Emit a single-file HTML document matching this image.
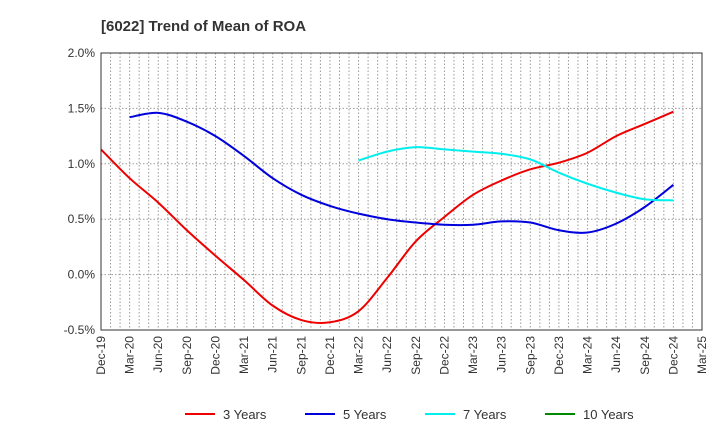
<!DOCTYPE html>
<html><head><meta charset="utf-8"><style>
body{margin:0;background:#fff;font-family:"Liberation Sans",sans-serif}
svg text{font-family:"Liberation Sans",sans-serif}
</style></head><body>
<svg id="c" width="720" height="440">
<text x="101" y="31" font-size="15" font-weight="bold" fill="#333">[6022]  Trend of Mean of ROA</text>
<g id="grid"></g><g id="series"></g><g id="axes"></g><g id="legend"></g>
</svg>
<script>
const xLabels=["Dec-19","Mar-20","Jun-20","Sep-20","Dec-20","Mar-21","Jun-21","Sep-21","Dec-21","Mar-22","Jun-22","Sep-22","Dec-22","Mar-23","Jun-23","Sep-23","Dec-23","Mar-24","Jun-24","Sep-24","Dec-24","Mar-25"];
const yTicks=[2.0,1.5,1.0,0.5,0.0,-0.5];
const yLabels=["2.0%","1.5%","1.0%","0.5%","0.0%","-0.5%"];
const s3=[1.13,0.87,0.65,0.40,0.17,-0.05,-0.28,-0.41,-0.43,-0.33,-0.03,0.30,0.52,0.72,0.85,0.95,1.01,1.10,1.25,1.36,1.47];
const s5=[null,1.42,1.46,1.38,1.25,1.07,0.87,0.72,0.62,0.55,0.50,0.47,0.45,0.45,0.48,0.47,0.40,0.38,0.46,0.61,0.81];
const s7=[null,null,null,null,null,null,null,null,null,1.03,1.11,1.15,1.13,1.11,1.09,1.04,0.92,0.82,0.74,0.68,0.67];
const s10=[];
const L=101,R=702,T=53,B=330,NS="http://www.w3.org/2000/svg";
const xs=i=>L+(R-L)*i/21, ys=v=>T+(2.0-v)/2.5*(B-T);
function mk(p,t,a){const e=document.createElementNS(NS,t);for(const k in a)e.setAttribute(k,a[k]);p.appendChild(e);return e;}
const g=document.getElementById('grid'),ax=document.getElementById('axes'),se=document.getElementById('series'),lg=document.getElementById('legend');
for(let m=1;m<63;m++){const x=L+(R-L)*m/63;const l=mk(g,'line',{x1:x,x2:x,y1:T,y2:B,stroke:'#999','stroke-dasharray':'1.5,2','stroke-width':1});
}
yTicks.forEach((v,i)=>{const y=ys(v);const l=mk(g,'line',{x1:L,x2:R,y1:y,y2:y,stroke:'#999','stroke-dasharray':'1.5,2'});

const t=mk(ax,'text',{x:L-6,y:y+4,'text-anchor':'end','font-size':12,fill:'#333'});t.textContent=yLabels[i];
});
const f=mk(ax,'rect',{x:L,y:T,width:R-L,height:B-T,fill:'none',stroke:'#333'});

xLabels.forEach((s,i)=>{const x=xs(i);const t=mk(ax,'text',{x:x+4,y:B+6,'text-anchor':'end','font-size':12,fill:'#333',transform:`rotate(-90 ${x+4} ${B+6})`});t.textContent=s;
});
function path(d){const p=[];d.forEach((v,i)=>{if(v!=null)p.push([xs(i),ys(v)]);});if(p.length<2)return '';
let s=`M${p[0][0]},${p[0][1]}`;for(let i=0;i<p.length-1;i++){const p0=p[i-1]||p[i],p1=p[i],p2=p[i+1],p3=p[i+2]||p2;
s+=` C${p1[0]+(p2[0]-p0[0])/6},${p1[1]+(p2[1]-p0[1])/6} ${p2[0]-(p3[0]-p1[0])/6},${p2[1]-(p3[1]-p1[1])/6} ${p2[0]},${p2[1]}`;}return s;}
const ser=[[s3,'#ee0000','3 Years','line-3-years'],[s5,'#0000dd','5 Years','line-5-years'],[s7,'#00eeee','7 Years','line-7-years'],[s10,'#008800','10 Years','line-10-years']];
ser.forEach(([d,c,n,id],k)=>{const pd=path(d);if(pd){const p=mk(se,'path',{d:pd,fill:'none',stroke:c,'stroke-width':2});
}
const lx=[185,305,425,545][k];
const l=mk(lg,'line',{x1:lx,x2:lx+30,y1:414,y2:414,stroke:c,'stroke-width':2});

const t=mk(lg,'text',{x:lx+38,y:419,'font-size':13,fill:'#333'});t.textContent=n;
});
</script>
</body></html>
